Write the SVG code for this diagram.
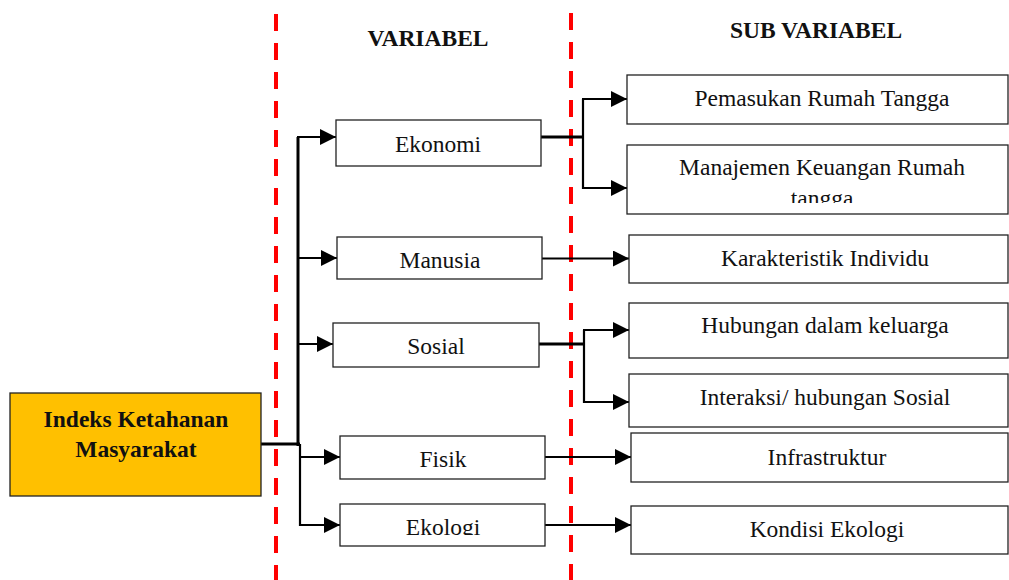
<svg xmlns="http://www.w3.org/2000/svg" width="1009" height="580" viewBox="0 0 1009 580">
<style>
.box{fill:#fff;stroke:#222;stroke-width:1.3}
.main{fill:#FFC000;stroke:#222;stroke-width:1.3}
.t{font-family:"Liberation Serif","Times New Roman",serif;font-size:23.5px;fill:#111;text-anchor:middle}
.b{font-family:"Liberation Serif","Times New Roman",serif;font-size:23.5px;font-weight:bold;fill:#111;text-anchor:middle}
.c{fill:none;stroke:#000;stroke-width:2.2}
.thick{fill:none;stroke:#000;stroke-width:3}
.dash{fill:none;stroke:#FF0000;stroke-width:4;stroke-dasharray:17 12}
</style>
<defs>
<marker id="arr" markerUnits="userSpaceOnUse" markerWidth="17" markerHeight="16" refX="16" refY="8" orient="auto">
<path d="M0,0 L16,8 L0,16 Z" fill="#000"/>
</marker>
<clipPath id="clipMan"><rect x="627" y="145" width="382" height="58"/></clipPath>
<clipPath id="clipEko"><rect x="340" y="504" width="205" height="31"/></clipPath>
</defs>
<rect width="1009" height="580" fill="#fff"/>
<g id="guides">
<line class="dash" x1="276" y1="14" x2="276" y2="580"/>
<line class="dash" x1="571" y1="13" x2="571" y2="580"/>
</g>
<g id="headers">
<text class="b" x="428" y="46">VARIABEL</text>
<text class="b" x="816" y="38">SUB VARIABEL</text>
</g>
<g id="connectors">
<polyline class="thick" points="261,444 300,444"/>
<line class="thick" x1="298" y1="137" x2="298" y2="446"/>
<line class="c" x1="300" y1="444" x2="300" y2="526"/>
<line class="c" x1="297" y1="137" x2="336" y2="137" marker-end="url(#arr)"/>
<line class="c" x1="297" y1="258" x2="337" y2="258" marker-end="url(#arr)"/>
<line class="c" x1="297" y1="344" x2="333" y2="344" marker-end="url(#arr)"/>
<line class="c" x1="299" y1="457" x2="340" y2="457" marker-end="url(#arr)"/>
<line class="c" x1="299" y1="525" x2="340" y2="525" marker-end="url(#arr)"/>
<line class="thick" x1="541" y1="137" x2="584" y2="137"/>
<polyline class="c" points="583,99 583,188 627,188" marker-end="url(#arr)"/>
<line class="c" x1="582" y1="99" x2="627" y2="99" marker-end="url(#arr)"/>
<line class="c" x1="542" y1="258.5" x2="629" y2="258.5" marker-end="url(#arr)"/>
<line class="thick" x1="539" y1="344" x2="584" y2="344"/>
<polyline class="c" points="584,330 584,402 629,402" marker-end="url(#arr)"/>
<line class="c" x1="583" y1="330" x2="629" y2="330" marker-end="url(#arr)"/>
<line class="c" x1="545" y1="457" x2="631" y2="457" marker-end="url(#arr)"/>
<line class="c" x1="545" y1="525" x2="631" y2="525" marker-end="url(#arr)"/>
</g>
<g id="node-main">
<rect class="main" x="10" y="393" width="251" height="103"/>
<text class="b" x="136" y="427">Indeks Ketahanan</text>
<text class="b" x="136" y="457">Masyarakat</text>
</g>
<g id="node-ekonomi">
<rect class="box" x="336" y="120" width="205" height="46"/>
<text class="t" x="438" y="152">Ekonomi</text>
</g>
<g id="node-manusia">
<rect class="box" x="337" y="237" width="205" height="42"/>
<text class="t" x="440" y="268">Manusia</text>
</g>
<g id="node-sosial">
<rect class="box" x="333" y="323" width="206" height="44"/>
<text class="t" x="436" y="354">Sosial</text>
</g>
<g id="node-fisik">
<rect class="box" x="340" y="436" width="205" height="43"/>
<text class="t" x="443" y="467">Fisik</text>
</g>
<g id="node-ekologi">
<rect class="box" x="340" y="504" width="205" height="42"/>
<text class="t" x="443" y="535" clip-path="url(#clipEko)">Ekologi</text>
</g>
<g id="node-pemasukan">
<rect class="box" x="627" y="75" width="381" height="49"/>
<text class="t" x="822" y="106">Pemasukan Rumah Tangga</text>
</g>
<g id="node-manajemen">
<rect class="box" x="627" y="145" width="381" height="69"/>
<g clip-path="url(#clipMan)">
<text class="t" x="822" y="175">Manajemen Keuangan Rumah</text>
<text class="t" x="822" y="206">tangga</text>
</g>
</g>
<g id="node-karakteristik">
<rect class="box" x="629" y="235" width="379" height="48"/>
<text class="t" x="825" y="266">Karakteristik Individu</text>
</g>
<g id="node-hubungan">
<rect class="box" x="629" y="303" width="379" height="55"/>
<text class="t" x="825" y="333">Hubungan dalam keluarga</text>
</g>
<g id="node-interaksi">
<rect class="box" x="629" y="374" width="379" height="53"/>
<text class="t" x="825" y="405">Interaksi/ hubungan Sosial</text>
</g>
<g id="node-infrastruktur">
<rect class="box" x="631" y="433" width="377" height="49"/>
<text class="t" x="827" y="465">Infrastruktur</text>
</g>
<g id="node-kondisi">
<rect class="box" x="631" y="506" width="377" height="48"/>
<text class="t" x="827" y="537">Kondisi Ekologi</text>
</g>
</svg>
